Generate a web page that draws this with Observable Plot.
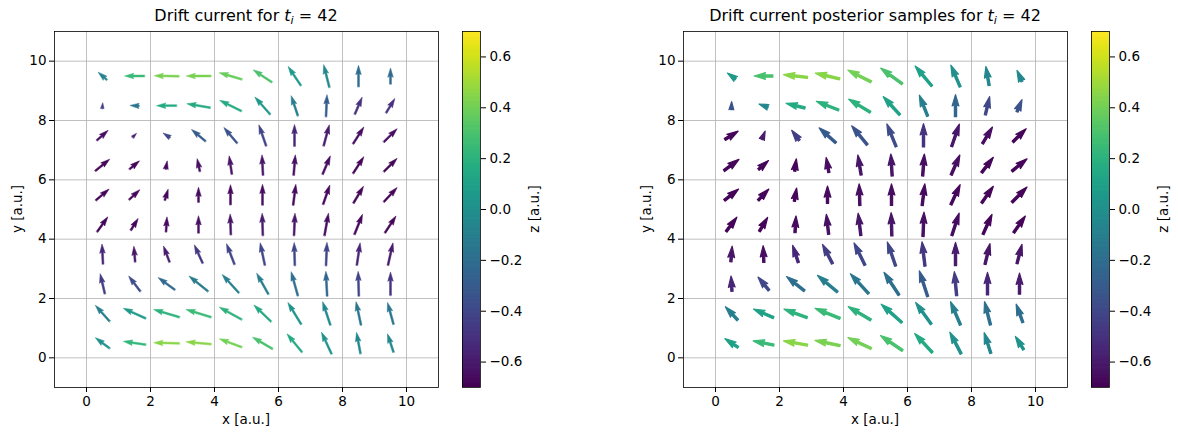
<!DOCTYPE html>
<html>
<head>
<meta charset="utf-8">
<script src="https://cdn.jsdelivr.net/npm/d3@7"></script>
<script src="https://cdn.jsdelivr.net/npm/@observablehq/plot@0.6"></script>
<style>
  body { margin: 0; background: white; }
  #root { position: relative; width: 1178px; height: 432px; font-family: "DejaVu Sans", sans-serif; color: black; overflow: hidden; }
  .abs { position: absolute; }
  .title { font-size: 16px; line-height: 16px; text-align: center; white-space: nowrap; }
  .title sub { font-size: 0.7em; line-height: 0; vertical-align: -0.3em; }
  .lab { font-size: 13.5px; line-height: 14px; white-space: nowrap; text-align: center; }
  .rot { transform: translate(-50%, -50%) rotate(-90deg); }
  .hc { transform: translate(-50%, -50%); }
</style>
</head>
<body>
<div id="root">
  <div id="p1" class="abs" style="left:0;top:0"></div>
  <div id="cb1" class="abs" style="left:462px;top:0"></div>
  <div id="p2" class="abs" style="left:629px;top:0"></div>
  <div id="cb2" class="abs" style="left:1091px;top:0"></div>

  <div class="abs title hc" style="left:246px;top:16px">Drift current for <i>t<sub>i</sub></i> = 42</div>
  <div class="abs title hc" style="left:875px;top:16px">Drift current posterior samples for <i>t<sub>i</sub></i> = 42</div>

  <div class="abs lab hc" style="left:246px;top:419px">x [a.u.]</div>
  <div class="abs lab hc" style="left:875px;top:419px">x [a.u.]</div>
  <div class="abs lab rot" style="left:17px;top:209px">y [a.u.]</div>
  <div class="abs lab rot" style="left:646px;top:209px">y [a.u.]</div>
  <div class="abs lab rot" style="left:534px;top:209px">z [a.u.]</div>
  <div class="abs lab rot" style="left:1163px;top:209px">z [a.u.]</div>
</div>
<script>
// grid of arrow positions
const xs = [0.5, 1.5, 2.5, 3.5, 4.5, 5.5, 6.5, 7.5, 8.5, 9.5];
const ys = [9.5, 8.5, 7.5, 6.5, 5.5, 4.5, 3.5, 2.5, 1.5, 0.5]; // rows listed top to bottom
const axisTicks = [0, 2, 4, 6, 8, 10];
const zTicks = [-0.6, -0.4, -0.2, 0.0, 0.2, 0.4, 0.6];
const zDomain = [-0.7, 0.7];

// ---- Drift current (true field) ----
const uTrue = [
  [-0.87, -2.0, -2.47, -2.47, -2.27, -1.87, -1.27, -0.57, 0, 0],
  [0.05, -0.9, -2.0, -2.33, -2.17, -1.53, -0.67, 0.1, 0.73, 0.87],
  [1.13, 0.4, -0.7, -1.4, -1.33, -0.73, 0, 0.57, 1.07, 1.33],
  [1.43, 1.0, 0.15, -0.27, -0.27, -0.1, 0.17, 0.77, 1.07, 1.33],
  [1.33, 1.07, 0.33, 0, 0, 0, 0.27, 0.67, 1.0, 1.33],
  [1.07, 0.73, 0.1, 0, -0.07, -0.07, 0.1, 0.4, 0.8, 1.1],
  [-0.1, -0.13, -0.6, -0.83, -0.8, -0.47, -0.07, 0.1, 0.33, 0.5],
  [-0.47, -1.17, -1.67, -1.9, -1.67, -1.17, -0.67, -0.13, -0.07, 0],
  [-1.43, -2.23, -2.57, -2.5, -2.23, -1.73, -1.33, -0.77, -0.5, -0.6],
  [-1.43, -2.23, -2.57, -2.5, -2.23, -2.0, -1.5, -1.0, -0.4, -0.6]
];
const vTrue = [
  [0.77, 0, 0.05, 0, 0.67, 1.23, 1.9, 2.27, 2.13, 1.6],
  [0.6, 0.05, 0, 0.4, 1.07, 1.73, 2.0, 2.2, 1.7, 1.43],
  [1.0, 0.4, 0.45, 1.17, 1.57, 2.1, 2.17, 2.1, 1.67, 1.33],
  [1.17, 0.83, 0.83, 1.27, 1.83, 2.03, 2.03, 1.83, 1.67, 1.33],
  [1.13, 1.0, 1.1, 1.5, 2.0, 2.07, 2.07, 1.93, 1.67, 1.43],
  [1.5, 1.17, 1.5, 1.73, 2.07, 2.23, 2.23, 2.23, 2.0, 1.67],
  [2.0, 1.57, 1.6, 1.83, 2.07, 2.23, 2.3, 2.33, 2.23, 2.23],
  [2.0, 1.53, 1.23, 1.53, 1.83, 2.1, 2.4, 2.47, 2.47, 2.33],
  [1.6, 1.0, 0.77, 0.77, 1.23, 1.67, 2.17, 2.33, 2.33, 2.17],
  [1.07, 0.33, 0.07, 0.23, 0.83, 1.17, 1.83, 2.17, 2.13, 1.83]
];
const zTrue = [
  [-0.08, 0.25, 0.42, 0.42, 0.38, 0.3, 0.05, -0.05, -0.2, -0.22],
  [-0.45, -0.15, 0.15, 0.15, 0.15, 0.04, -0.12, -0.3, -0.5, -0.5],
  [-0.65, -0.6, -0.4, -0.3, -0.35, -0.42, -0.55, -0.6, -0.65, -0.65],
  [-0.68, -0.68, -0.66, -0.64, -0.62, -0.62, -0.64, -0.65, -0.68, -0.68],
  [-0.68, -0.68, -0.67, -0.66, -0.66, -0.65, -0.66, -0.67, -0.68, -0.68],
  [-0.68, -0.68, -0.66, -0.64, -0.62, -0.6, -0.62, -0.65, -0.67, -0.68],
  [-0.55, -0.62, -0.58, -0.48, -0.42, -0.4, -0.4, -0.42, -0.55, -0.6],
  [-0.45, -0.38, -0.22, -0.12, -0.1, -0.12, -0.2, -0.25, -0.42, -0.5],
  [-0.1, 0.05, 0.2, 0.25, 0.2, 0.15, 0.02, -0.05, -0.15, -0.15],
  [0.0, 0.22, 0.45, 0.45, 0.4, 0.3, 0.15, 0.02, -0.05, -0.05]
];

// ---- Drift current posterior samples ----
const uPost = [
  [-0.83, -1.87, -2.4, -2.43, -2.33, -2.17, -1.67, -0.93, -0.33, -0.5],
  [0.03, -0.9, -1.9, -2.23, -2.17, -1.67, -0.83, 0, 0.43, 0.5],
  [1.33, 0.33, -0.77, -1.67, -1.57, -0.93, 0, 0.77, 1.0, 1.33],
  [1.5, 1.0, 0.17, -0.27, -0.33, -0.13, 0.17, 0.87, 1.17, 1.5],
  [1.43, 1.07, 0.23, 0, -0.07, 0, 0.27, 0.93, 1.17, 1.5],
  [1.07, 0.83, 0.1, -0.23, -0.27, -0.07, 0.1, 0.73, 0.9, 1.17],
  [0.13, -0.07, -0.57, -1.0, -1.1, -0.83, -0.3, 0, 0.5, 0.5],
  [-0.1, -1.1, -1.8, -2.0, -1.83, -1.5, -0.83, -0.23, 0, 0],
  [-1.23, -2.0, -2.33, -2.5, -2.27, -2.07, -1.57, -1.0, -0.6, -0.67],
  [-1.33, -2.07, -2.4, -2.5, -2.33, -2.2, -1.77, -1.13, -0.67, -0.83]
];
const vPost = [
  [0.6, 0, 0.27, 0.57, 1.17, 1.57, 2.0, 2.17, 1.9, 1.1],
  [0.8, 0.33, 0.47, 0.87, 1.3, 1.83, 2.1, 2.2, 1.83, 1.23],
  [0.83, 0.83, 1.0, 1.5, 1.9, 2.27, 2.33, 2.23, 1.67, 1.33],
  [1.13, 0.9, 1.23, 1.5, 2.0, 2.2, 2.2, 2.0, 1.53, 1.23],
  [1.13, 1.13, 1.33, 1.73, 2.17, 2.17, 2.17, 2.0, 1.67, 1.53],
  [1.43, 1.4, 1.67, 2.0, 2.23, 2.33, 2.43, 2.23, 2.0, 1.67],
  [1.57, 1.67, 1.73, 1.93, 2.23, 2.4, 2.43, 2.33, 2.07, 1.93],
  [1.53, 1.33, 1.43, 1.67, 2.0, 2.27, 2.57, 2.4, 2.27, 2.1],
  [1.33, 0.87, 0.87, 1.0, 1.33, 1.83, 2.17, 2.33, 2.33, 1.83],
  [0.87, 0.43, 0.43, 0.53, 1.1, 1.5, 1.9, 2.17, 2.07, 1.33]
];
const zPost = [
  [0.05, 0.3, 0.45, 0.45, 0.4, 0.3, 0.1, 0.0, -0.05, -0.05],
  [-0.35, -0.05, 0.15, 0.2, 0.2, 0.1, -0.1, -0.25, -0.4, -0.35],
  [-0.68, -0.6, -0.45, -0.3, -0.35, -0.38, -0.5, -0.62, -0.65, -0.68],
  [-0.68, -0.68, -0.68, -0.65, -0.62, -0.62, -0.65, -0.65, -0.68, -0.68],
  [-0.68, -0.68, -0.68, -0.66, -0.65, -0.65, -0.66, -0.67, -0.68, -0.68],
  [-0.68, -0.68, -0.66, -0.64, -0.62, -0.62, -0.64, -0.66, -0.68, -0.68],
  [-0.62, -0.65, -0.55, -0.45, -0.4, -0.4, -0.48, -0.6, -0.62, -0.62],
  [-0.55, -0.4, -0.2, -0.1, -0.15, -0.2, -0.3, -0.45, -0.55, -0.6],
  [-0.1, 0.1, 0.2, 0.25, 0.2, 0.1, 0.0, -0.1, -0.2, -0.2],
  [0.1, 0.25, 0.45, 0.42, 0.4, 0.3, 0.15, 0.0, -0.05, 0.0]
];

function table(U, V, Z) {
  const out = [];
  ys.forEach((y, r) => xs.forEach((x, c) => out.push({x, y, u: U[r][c], v: V[r][c], z: Z[r][c]})));
  return out;
}

// matplotlib-like quiver arrow polygon (pivot = middle)
function quiverShape(w) {
  return {
    draw(ctx, L) {
      const hl = 5 * w, hal = 4.5 * w, hw = 1.5 * w, sw = 0.5 * w;
      let pts;
      if (L >= hl) {
        pts = [[0, sw], [L - hal, sw], [L - hl, hw], [L, 0], [L - hl, -hw], [L - hal, -sw], [0, -sw]];
      } else {
        const s = L / hl;
        pts = [[0, sw * s], [0.5 * w * s, sw * s], [0, hw * s], [L, 0], [0, -hw * s], [0.5 * w * s, -sw * s], [0, -sw * s]];
      }
      pts.forEach(([a, p], i) => i ? ctx.lineTo(p, -a) : ctx.moveTo(p, -a));
      ctx.closePath();
    }
  };
}

const colorScale = {type: "linear", scheme: "viridis", domain: zDomain};
const font = {fontFamily: "DejaVu Sans, sans-serif", fontSize: "13.5px", color: "black", background: "white", overflow: "visible"};

function panel(data, w, sw) {
  return Plot.plot({
    width: 448, height: 432,
    marginLeft: 54, marginRight: 10, marginTop: 31, marginBottom: 45,
    style: font,
    x: {domain: [-1, 11]},
    y: {domain: [-1, 11]},
    color: colorScale,
    length: {type: "linear", domain: [0, 1], range: [0, 10]},
    marks: [
      Plot.gridX({ticks: axisTicks, stroke: "#b0b0b0", strokeOpacity: 1, strokeWidth: 0.8}),
      Plot.gridY({ticks: axisTicks, stroke: "#b0b0b0", strokeOpacity: 1, strokeWidth: 0.8}),
      Plot.vector(data, {
        x: "x", y: "y",
        length: d => Math.hypot(d.u, d.v),
        rotate: d => Math.atan2(d.u, d.v) * 180 / Math.PI,
        anchor: "middle",
        shape: quiverShape(w),
        fill: "z", stroke: "z", strokeWidth: sw, strokeLinejoin: "round"
      }),
      Plot.frame({stroke: "black", strokeWidth: 0.8}),
      Plot.axisX({ticks: axisTicks, tickSize: 5, tickPadding: 4, fontSize: 13.5, label: null, tickFormat: d3.format("d")}),
      Plot.axisY({ticks: axisTicks, tickSize: 5, tickPadding: 3, fontSize: 13.5, label: null, tickFormat: d3.format("d")})
    ]
  });
}

const nBands = 280;
const bands = d3.range(nBands).map(i => zDomain[0] + (zDomain[1] - zDomain[0]) * i / nBands);
const step = (zDomain[1] - zDomain[0]) / nBands;

function colorbar() {
  return Plot.plot({
    width: 70, height: 432,
    marginLeft: 0, marginRight: 52, marginTop: 31, marginBottom: 45,
    style: font,
    x: {domain: [0, 1], axis: null},
    y: {domain: zDomain},
    color: colorScale,
    marks: [
      Plot.rect(bands, {x1: 0, x2: 1, y1: d => d, y2: d => Math.min(zDomain[1], d + step * 1.6), fill: d => d + step / 2}),
      Plot.frame({stroke: "black", strokeWidth: 0.8}),
      Plot.axisY({anchor: "right", ticks: zTicks, tickFormat: d3.format(".1f"), tickSize: 5, tickPadding: 4, fontSize: 13.5, label: null})
    ]
  });
}

document.getElementById("p1").append(panel(table(uTrue, vTrue, zTrue), 1.85, 0.5));
document.getElementById("p2").append(panel(table(uPost, vPost, zPost), 2.25, 1.2));
document.getElementById("cb1").append(colorbar());
document.getElementById("cb2").append(colorbar());
</script>
</body>
</html>
